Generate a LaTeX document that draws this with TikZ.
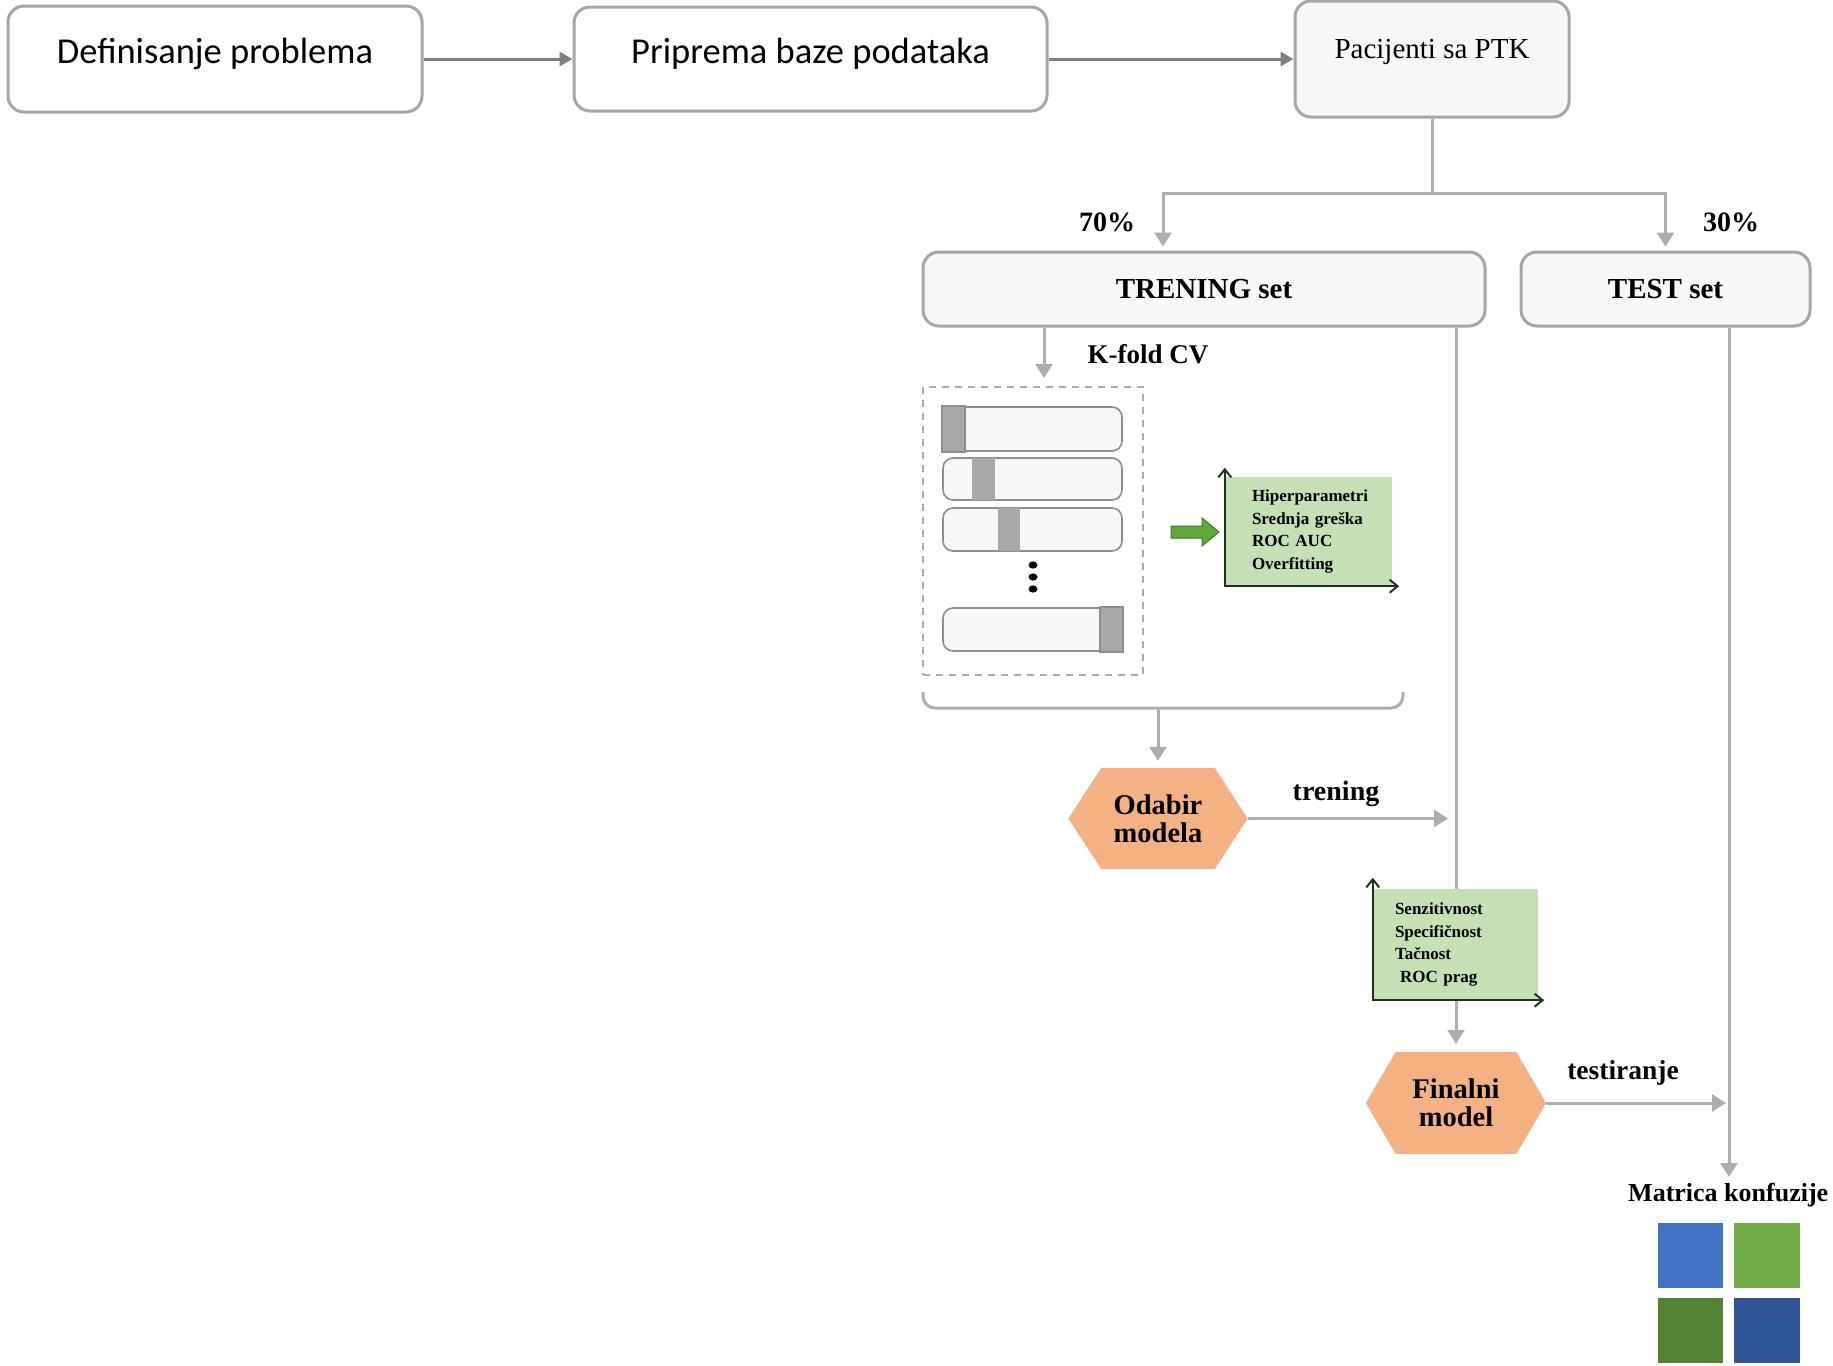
\documentclass[tikz,border=0pt]{standalone}
\usepackage{fontspec}
\setmainfont{Liberation Serif}
\newfontfamily\calfont{Carlito}
\usetikzlibrary{arrows.meta,calc,backgrounds}

\definecolor{boxgray}{HTML}{A6A6A6}
\definecolor{boxfill}{HTML}{F6F7F9}
\definecolor{topgray}{HTML}{7F7F7F}
\definecolor{flowgray}{HTML}{AEAEAE}
\definecolor{hexfill}{HTML}{F4B183}
\definecolor{gfill}{HTML}{C5E0B4}
\definecolor{axisc}{HTML}{1E321E}
\definecolor{garrow}{HTML}{5FA83B}
\definecolor{garrowline}{HTML}{3E7D25}
\definecolor{foldfill}{HTML}{F7F7F8}
\definecolor{foldline}{HTML}{8E8E8E}
\definecolor{foldblock}{HTML}{A8A8A8}
\definecolor{dashgray}{HTML}{ABABAB}
\definecolor{mA}{HTML}{4472C4}
\definecolor{mB}{HTML}{70AD47}
\definecolor{mC}{HTML}{548235}
\definecolor{mD}{HTML}{2F5597}

\begin{document}
\begin{tikzpicture}[x=1pt,y=-1pt,
  topbox/.style={draw=boxgray, line width=3pt, rounded corners=16pt, fill=white,
    inner sep=0pt, font=\calfont\fontsize{36.5}{40}\selectfont},
  setbox/.style={draw=boxgray, line width=3pt, rounded corners=16pt, fill=boxfill,
    inner sep=0pt},
  boldtxt/.style={font=\bfseries\fontsize{#1}{#1}\selectfont},
  lbl/.style={inner sep=0pt, boldtxt=28},
  flow/.style={draw=flowgray, line width=3pt},
  flowarr/.style={flow, -{Triangle[length=14pt,width=17pt]}},
  toparr/.style={draw=topgray, line width=3pt, -{Triangle[length=13pt,width=14pt]}},
  hexnode/.style={inner sep=0pt, align=center, font=\bfseries\fontsize{28.5}{28}\selectfont},
  hexshape/.style={fill=hexfill},
  gbox/.style={fill=gfill, inner ysep=0pt, align=left,
    font=\bfseries\fontsize{17}{22.7}\selectfont},
  axis/.style={draw=axisc, line width=2pt,
    {Straight Barb[length=8pt,width=13pt]}-{Straight Barb[length=8pt,width=13pt]}},
  foldbar/.style={draw=foldline, line width=1.6pt, fill=foldfill, rounded corners=10pt,
    minimum width=179pt, inner sep=0pt},
  foldpart/.style={fill=foldblock},
]
\useasboundingbox (0,0) rectangle (1833,1365);

% top row
\node[topbox, minimum width=414pt, minimum height=106pt] (def) at (215,59)
  {\raisebox{5pt}[\height][\depth]{Definisanje problema}};
\node[topbox, minimum width=473pt, minimum height=104pt] (prep) at (810.5,59)
  {\raisebox{5pt}[\height][\depth]{Priprema baze podataka}};
\node[setbox, minimum width=274pt, minimum height=116pt,
  font=\fontsize{29}{31}\selectfont] (pac) at (1432,59)
  {\raisebox{7pt}[\height][\depth]{Pacijenti sa PTK}};
\draw[toparr] (def.east) -- (prep.west);
\draw[toparr] (prep.east) -- (pac.west);

% split into training and test sets
\node[setbox, minimum width=562pt, minimum height=74pt, boldtxt=29] (tren) at (1204,289) {TRENING set};
\node[setbox, minimum width=289pt, minimum height=74pt, boldtxt=29] (test) at (1665.5,289) {TEST set};
\coordinate (split) at (1432,193);
\coordinate (trIn) at (1163,0);
\draw[flow] (pac.south) -- (split);
\draw[flowarr] (split) -| ([yshift=4pt]trIn |- tren.north);
\draw[flowarr] (split) -| ([yshift=4pt]test.north);
\node[lbl] (p70) at (1107,222) {70\%};
\node[lbl] (p30) at (1731,222) {30\%};

% k-fold cross validation
\coordinate (kfx) at (1044,0);
\coordinate (kfEnd) at (1044,378);
\draw[flowarr] (kfx |- tren.south) -- (kfEnd);
\node[lbl, boldtxt=27] (kfl) at (1148,354) {K-fold CV};

\node[draw=dashgray, line width=1.5pt, dash pattern=on 7pt off 6pt,
  minimum width=220pt, minimum height=288pt, inner sep=0pt] (cv) at (1033,531) {};

\node[foldbar, minimum height=44pt] (f1) at (1032.5,429) {};
\node[foldbar, minimum height=42pt] (f2) at (1032.5,479) {};
\node[foldbar, minimum height=43pt] (f3) at (1032.5,529.5) {};
\node[foldbar, minimum height=43pt] (f4) at (1032.5,629.5) {};
% held-out fold in each split
\fill[foldpart] ($(f1.north west)+(0,0.8)$) rectangle ($(f1.south west)+(23,-0.8)$);
\fill[foldpart] ($(f2.north west)+(30,0.8)$) rectangle ($(f2.south west)+(53,-0.8)$);
\fill[foldpart] ($(f3.north west)+(56,0.8)$) rectangle ($(f3.south west)+(78,-0.8)$);
\fill[foldpart] ($(f4.north east)+(-23,0.8)$) rectangle ($(f4.south east)+(0,-0.8)$);
\draw[foldline, line width=1.6pt] (f1.north west) rectangle ($(f1.south west)+(23,0)$);
\draw[foldline, line width=1.6pt] ($(f4.north east)+(-23,0)$) rectangle (f4.south east);
\foreach \yy in {565,577,589} \fill (1033,\yy) ellipse (4.5 and 3.6);

% block arrow towards the metrics
\draw[garrowline, fill=garrow, line width=1pt]
  (1171,526) -- (1202,526) -- (1202,518) -- (1219,532) -- (1202,546)
  -- (1202,538) -- (1171,538) -- cycle;

\node[gbox, minimum width=167pt, minimum height=109pt, text width=113pt, inner xsep=27pt]
  (gb1) at (1308.5,531.5) {Hiperparametri\\Srednja greška\\ROC AUC\\Overfitting};
\draw[axis] ($(gb1.north west)+(0,-9)$) -- (gb1.south west) -- ($(gb1.south east)+(7,0)$);

% bracket collecting the folds
\draw[flow, rounded corners=12pt] (923,692) -- (923,708) -- (1403,708) -- (1403,692);
\coordinate (brk) at (1158,708);

% model selection
\node[hexnode, minimum width=179pt, minimum height=101pt] (odab) at (1158,818.5) {Odabir\\modela};
\begin{scope}[on background layer]
  \fill[hexshape] (odab.west) -- ($(odab.north west)+(33,0)$) -- ($(odab.north east)+(-33,0)$)
    -- (odab.east) -- ($(odab.south east)+(-33,0)$) -- ($(odab.south west)+(33,0)$) -- cycle;
\end{scope}
\draw[flowarr] (brk) -- ([yshift=7pt]odab.north);
\coordinate (trEnd) at (1448,818.5);
\draw[flowarr] (odab.east) -- (trEnd);
\node[lbl] (trl) at (1336,794) {trening};

% final model
\node[hexnode, minimum width=180pt, minimum height=102pt] (fin) at (1456,1103) {Finalni\\model};
\begin{scope}[on background layer]
  \fill[hexshape] (fin.west) -- ($(fin.north west)+(30,0)$) -- ($(fin.north east)+(-30,0)$)
    -- (fin.east) -- ($(fin.south east)+(-30,0)$) -- ($(fin.south west)+(30,0)$) -- cycle;
\end{scope}
\coordinate (rx) at (1456,0);
\draw[flowarr] (rx |- tren.south) -- ([yshift=8pt]fin.north);

\node[gbox, minimum width=165pt, minimum height=111pt, text width=121pt, inner xsep=22pt]
  (gb2) at (1455.5,944.5) {Senzitivnost\\Specifičnost\\Tačnost\\\hspace*{5pt}ROC prag};
\draw[axis] ($(gb2.north west)+(0,-11)$) -- (gb2.south west) -- ($(gb2.south east)+(6,0)$);

% testing
\coordinate (tx) at (1729,0);
\coordinate (tEnd) at (1729,1177);
\draw[flowarr] (tx |- test.south) -- (tEnd);
\coordinate (teEnd) at (1726,1103);
\draw[flowarr] (fin.east) -- (teEnd);
\node[lbl, boldtxt=27.5] (tel) at (1623,1073) {testiranje};

% confusion matrix
\node[lbl, boldtxt=26, anchor=west] (mat) at (1628,1195) {Matrica konfuzije};
\fill[mA] (1658,1223) rectangle (1723,1288);
\fill[mB] (1734,1223) rectangle (1800,1288);
\fill[mC] (1658,1298) rectangle (1723,1363);
\fill[mD] (1734,1298) rectangle (1800,1363);
\end{tikzpicture}
\end{document}
